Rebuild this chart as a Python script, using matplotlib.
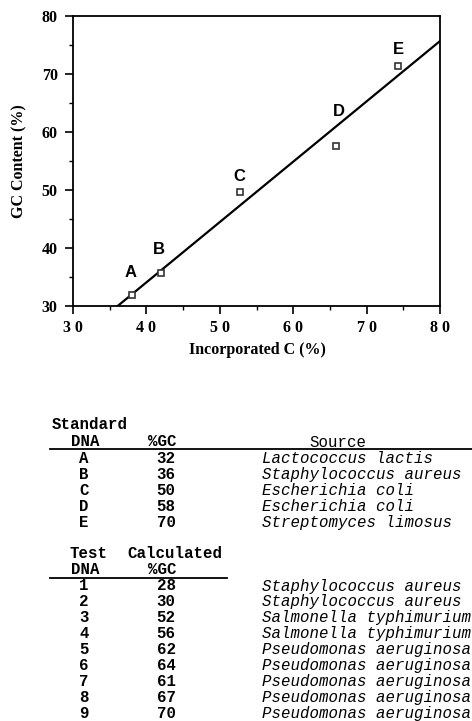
import numpy as np
import matplotlib
matplotlib.use("Agg")
import matplotlib.pyplot as plt
from matplotlib.ticker import MultipleLocator, FuncFormatter

# ---- data ----
std_labels = ["A", "B", "C", "D", "E"]
incorporated_c = [38.1, 42.0, 52.7, 65.8, 74.3]
gc_content = [31.9, 35.7, 49.6, 57.6, 71.4]
label_x = [37.9, 41.7, 52.6, 66.2, 74.4]
label_y = [35.7, 39.7, 52.4, 63.5, 74.3]

std_dna = ["A", "B", "C", "D", "E"]
std_gc = ["32", "36", "50", "58", "70"]
std_source = ["Lactococcus lactis", "Staphylococcus aureus", "Escherichia coli",
              "Escherichia coli", "Streptomyces limosus"]

test_dna = ["1", "2", "3", "4", "5", "6", "7", "8", "9"]
test_gc = ["28", "30", "52", "56", "62", "64", "61", "67", "70"]
test_source = ["Staphylococcus aureus", "Staphylococcus aureus", "Salmonella typhimurium",
               "Salmonella typhimurium", "Pseudomonas aeruginosa", "Pseudomonas aeruginosa",
               "Pseudomonas aeruginosa", "Pseudomonas aeruginosa", "Pseudomonas aeruginosa"]

W, H = 472, 721
fig = plt.figure(figsize=(W / 100, H / 100), dpi=100)
ax = fig.add_axes([73 / W, 1 - 306 / H, (440 - 73) / W, (306 - 16) / H])

serif = "Liberation Serif"
sans = "Liberation Sans"
mono = "Liberation Mono"

# fit line
slope, intercept = np.polyfit(incorporated_c, gc_content, 1)
xs = np.array([30, 80])
ax.plot(xs, slope * xs + intercept, color="black", lw=1.6, zorder=2)
ax.plot(incorporated_c, gc_content, linestyle="none", marker="s", ms=5,
        mfc="white", mec="#333333", mew=1.2, zorder=3)
for lab, lx, ly in zip(std_labels, label_x, label_y):
    ax.text(lx, ly, lab, fontsize=12, fontweight="bold", family=sans,
            ha="center", va="center")

ax.set_xlim(30, 80)
ax.set_ylim(30, 80)
ax.xaxis.set_major_locator(MultipleLocator(10))
ax.xaxis.set_minor_locator(MultipleLocator(5))
ax.yaxis.set_major_locator(MultipleLocator(10))
ax.yaxis.set_minor_locator(MultipleLocator(5))
ax.xaxis.set_major_formatter(FuncFormatter(lambda v, p: " ".join(str(int(v)))))
ax.tick_params(which="major", length=6, width=1.2, direction="out")
ax.tick_params(which="minor", length=3, width=1.0, direction="out")
ax.tick_params(axis="y", pad=5)
ax.tick_params(axis="x", pad=4)
for t in ax.get_xticklabels() + ax.get_yticklabels():
    t.set_family(serif)
    t.set_fontweight("bold")
    t.set_fontsize(11.5)
for s in ax.spines.values():
    s.set_linewidth(1.3)

ax.set_ylabel("GC Content (%)", family=serif, fontweight="bold", fontsize=11.5)
ax.set_xlabel("Incorporated C (%)", family=serif, fontweight="bold", fontsize=11.5)
ax.yaxis.set_label_coords((19 - 73) / 367, 0.5)
ax.xaxis.set_label_coords((257 - 73) / 367, (306 - 350) / 290)
ax.xaxis.label.set_va("center")
ax.yaxis.label.set_va("center")


def fx(x):
    return x / W


def fy(y):
    return 1 - y / H


fs = 11.3
bold = dict(family=mono, fontweight="bold", fontsize=fs, va="center")

# Standard table
fig.text(fx(52), fy(425), "Standard", ha="left", **bold)
fig.text(fx(85), fy(441.5), "DNA", ha="center", **bold)
fig.text(fx(162), fy(441.5), "%GC", ha="center", **bold)
fig.text(fx(338), fy(443), "Source", ha="center", family=mono, fontsize=fs, va="center")
fig.add_artist(plt.Line2D([fx(50), fx(472)], [fy(449), fy(449)], color="black", lw=1.3))
for i, (d, g, s) in enumerate(zip(std_dna, std_gc, std_source)):
    y = 458.3 + i * 16
    fig.text(fx(84), fy(y), d, ha="center", **bold)
    fig.text(fx(166), fy(y), g, ha="center", **bold)
    fig.text(fx(262), fy(y), s, ha="left", family=mono, style="italic",
             fontsize=fs, va="center")

# Test table
fig.text(fx(88), fy(553), "Test", ha="center", **bold)
fig.text(fx(174.5), fy(553), "Calculated", ha="center", **bold)
fig.text(fx(85), fy(569), "DNA", ha="center", **bold)
fig.text(fx(162), fy(569), "%GC", ha="center", **bold)
fig.add_artist(plt.Line2D([fx(50), fx(227)], [fy(577.7), fy(577.7)], color="black", lw=1.3))
for i, (d, g, s) in enumerate(zip(test_dna, test_gc, test_source)):
    y = 586 + i * 15.9
    fig.text(fx(84), fy(y), d, ha="center", **bold)
    fig.text(fx(166), fy(y), g, ha="center", **bold)
    fig.text(fx(262), fy(y), s, ha="left", family=mono, style="italic",
             fontsize=fs, va="center")

fig.savefig("out.png", dpi=100)
